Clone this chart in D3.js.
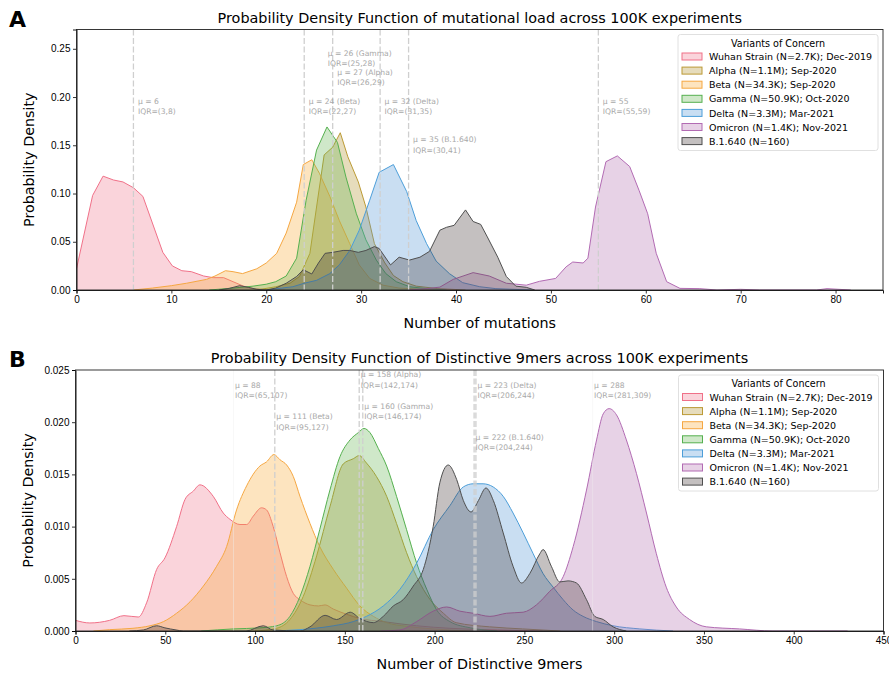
<!DOCTYPE html>
<html>
<head>
<meta charset="utf-8">
<script src="https://cdn.jsdelivr.net/npm/d3@7"></script>
<style>
  body { margin: 0; background: #fff; }
  svg { font-family: "DejaVu Sans", sans-serif; }
  .tick text { font-size: 10px; fill: #000; }
  .domain { stroke: #000; stroke-width: 0.9; }
  .tick line { stroke: #000; stroke-width: 0.8; }
</style>
</head>
<body>
<svg id="chart" width="889" height="674"></svg>
<script>
// legend order = draw order
var variants = ["Wuhan Strain (N=2.7K); Dec-2019", "Alpha (N=1.1M); Sep-2020", "Beta (N=34.3K); Sep-2020",
    "Gamma (N=50.9K); Oct-2020", "Delta (N=3.3M); Mar-2021", "Omicron (N=1.4K); Nov-2021", "B.1.640 (N=160)"];
var lineColors = ["#f07088", "#bb9a35", "#f5a742", "#55b04f", "#4c9ed9", "#b26bb3", "#4f4f4f"];
var fillColors = ["#f07088", "#ac8a20", "#f8a52a", "#5fb24b", "#4b91d4", "#af69ac", "#3a3030"];

// ---- panel A: mutations ----
var wuhanA = [[0,0.022],[1.7,0.098],[2.8,0.118],[3.9,0.114],[4.9,0.112],[6,0.106],[7,0.097],[9.1,0.039],[10.1,0.025],
    [11.1,0.020],[12.1,0.019],[13.4,0.0145],[14.4,0.0128],[15.5,0.0128],[16.5,0.0086],[17.6,0.004],[18.6,0.0014],[20,0.0005],[22,0]];
var alphaA = [[19,0],[21,0.0034],[22.5,0.007],[23.5,0.014],[24.6,0.038],[25.3,0.086],[26.1,0.140],[27,0.148],[27.8,0.163],
    [28.6,0.138],[29.7,0.112],[30.5,0.086],[31.4,0.048],[32.5,0.028],[33.4,0.015],[34.4,0.0086],[35.8,0.004],[38,0.0015],[41,0]];
var betaA = [[6,0],[8,0.002],[10,0.0045],[11.6,0.007],[13.7,0.011],[14.6,0.0145],[15.7,0.020],[16.5,0.019],[17.5,0.017],[19,0.022],
    [20,0.028],[21.1,0.038],[22.1,0.059],[23.2,0.091],[23.9,0.130],[24.8,0.135],[25.6,0.121],[26.7,0.097],[27.7,0.072],
    [28.8,0.048],[29.8,0.026],[30.9,0.012],[32.3,0.005],[34,0.002],[37,0.0005],[40,0]];
var gammaA = [[14,0],[16.5,0.002],[18.6,0.004],[20,0.006],[21,0.0086],[22.1,0.0145],[23.2,0.033],[24.2,0.093],[25.3,0.145],
    [26.4,0.169],[27.5,0.153],[28.4,0.117],[29.5,0.079],[30.5,0.052],[31.6,0.031],[32.6,0.017],[33.7,0.0086],[35.1,0.0034],
    [36.9,0.0014],[39,0]];
var deltaA = [[20,0],[22.8,0.0034],[24,0.007],[25.3,0.010],[26.7,0.017],[27.7,0.026],[28.8,0.041],[29.8,0.062],[30.9,0.093],
    [31.9,0.122],[33.4,0.130],[34.8,0.102],[35.8,0.072],[36.9,0.048],[37.9,0.030],[39.3,0.017],[40.7,0.0076],[42.5,0.0034],
    [44.2,0.0014],[48,0]];
var omicronA = [[35,0],[36.9,0.0014],[38.3,0.003],[39.7,0.011],[41.8,0.018],[43.5,0.0145],[45.3,0.007],[47.4,0.005],
    [48.8,0.009],[50.5,0.012],[51.6,0.024],[52.3,0.029],[53.4,0.028],[53.9,0.033],[54.7,0.086],[55.8,0.133],[57,0.139],
    [58.3,0.128],[59.3,0.103],[60.2,0.079],[61.1,0.038],[62.2,0.0086],[63.6,0.0017],[65.7,0.0014],[67.5,0],[70,0.0007],
    [72,0],[78,0],[79.1,0.0014],[81.6,0]];
var b1640A = [[15,0],[16.1,0.0017],[17.2,0.0045],[18.1,0.0028],[19,0.0007],[20,0],[21,0.002],[22.1,0.007],[23.2,0.014],
    [23.9,0.021],[24.8,0.0166],[25.5,0.028],[26.2,0.038],[27,0.039],[28.1,0.041],[28.8,0.041],[29.7,0.039],[30.5,0.041],
    [31.4,0.045],[31.9,0.043],[33.1,0.026],[34,0.034],[35.1,0.031],[36.2,0.034],[37.2,0.040],[38.3,0.062],[39,0.065],
    [39.8,0.067],[41,0.083],[41.8,0.071],[42.6,0.068],[43.3,0.055],[44.4,0.034],[45.3,0.014],[46.3,0.004],[47.4,0.0028],[48.3,0]];

// ---- panel B: distinctive 9mers ----
var wuhanB = [[0,0.00102],[8,0.00077],[19,0.00102],[27,0.00147],[35,0.00134],[39.6,0.0027],[45.2,0.0059],[49.8,0.0070],
    [56.3,0.0100],[61,0.0126],[65.6,0.0134],[69.3,0.0140],[76.7,0.0129],[82.3,0.0113],[86,0.0107],[91.6,0.0102],[95.3,0.0102],
    [99,0.0110],[103.6,0.0118],[106.4,0.0116],[110.1,0.0100],[113.9,0.0075],[117.6,0.0052],[121.3,0.0036],[125,0.0030],
    [130.6,0.0025],[135.3,0.0024],[139,0.0025],[143.6,0.0021],[151,0.0016],[158.4,0.0012],[171.4,0.0009],[190,0.0005],
    [208.5,0.00026],[235,0.0001],[260,0]];
var alphaB = [[100,0],[112,0.00026],[119.4,0.0011],[126.8,0.0033],[134.3,0.0072],[141.7,0.0119],[149.1,0.0160],[154.7,0.0165],
    [158,0.0168],[162,0.0161],[167.6,0.0148],[173.3,0.0129],[178.8,0.0103],[184.4,0.0075],[190,0.0052],[197.5,0.0030],
    [204.9,0.0017],[212,0.0008],[230.6,0.0004],[249,0.0002],[270,0]];
var betaB = [[10,0],[19,0.00013],[32,0.00026],[41.5,0.0005],[49,0.0009],[56.3,0.0017],[63.8,0.0028],[71.2,0.0043],
    [78.6,0.0062],[84.2,0.0081],[89.7,0.0116],[95.3,0.0139],[102.7,0.0158],[106.4,0.0162],[110.5,0.0169],[113.9,0.0164],
    [117.6,0.0159],[121.3,0.0148],[125,0.0129],[130.6,0.0103],[136,0.0081],[143.6,0.0059],[151,0.0041],[158.4,0.0024],
    [165.9,0.0014],[173.3,0.0008],[184.4,0.00045],[199,0.0002],[220,0]];
var gammaB = [[70,0],[87.9,0.0002],[102.7,0.0003],[112,0.0005],[119.4,0.0014],[125,0.0033],[130.6,0.0062],[136,0.0097],
    [141.7,0.0135],[147.3,0.0167],[152.9,0.0183],[157.5,0.0190],[160.7,0.0194],[164,0.0190],[168.6,0.0175],[173.3,0.0158],
    [178.8,0.0129],[184.4,0.0097],[190,0.0065],[195.6,0.0040],[201.2,0.0020],[208.5,0.0009],[220,0.0003],[235,0]];
var deltaB = [[110,0],[125,0.00013],[143.6,0.0005],[154.7,0.0009],[162,0.0014],[171.4,0.0024],[180.7,0.0040],[190,0.0065],
    [199.2,0.0097],[208.5,0.0120],[216,0.0138],[221.5,0.0141],[227,0.0141],[232.6,0.0138],[238.2,0.0129],[243.7,0.0113],
    [249.3,0.0094],[254.9,0.0074],[260.4,0.0055],[266,0.0042],[271.6,0.0030],[277.2,0.0020],[282.7,0.0014],[290.2,0.0009],
    [299.4,0.0005],[314.3,0.0002],[332.8,0]];
var omicronB = [[170,0],[180.7,0.0001],[190,0.0009],[199.2,0.0019],[206.7,0.0023],[214.1,0.0019],[221.5,0.0017],[230.8,0.0014],
    [240,0.0017],[249.3,0.0018],[256.7,0.0025],[264.1,0.0038],[271.6,0.0052],[277.2,0.0081],[284.6,0.0135],[290.2,0.0183],
    [293.9,0.0208],[297.2,0.0213],[301.3,0.0207],[306.8,0.0183],[312.4,0.0151],[318,0.0113],[323.5,0.0074],[329,0.0042],
    [334.6,0.0023],[342,0.0011],[351.3,0.0004],[369.8,0.0002],[388.4,0],[430,0]];
var b1640B = [[30,0],[37.8,0.0001],[45.2,0.0005],[49.8,0.0003],[56,0.0001],[60,0],[95,0],[104.6,0.0005],[110,0.0001],[125,0],
    [130.6,0.0004],[139,0.0015],[145.4,0.0011],[153,0.0018],[158.4,0.0012],[165.9,0.0008],[171.4,0.0014],[177,0.0024],
    [182.5,0.0030],[188.1,0.0043],[193.7,0.0059],[199.2,0.0100],[202.9,0.0142],[207.6,0.0159],[212.3,0.0145],[216,0.0125],
    [220.3,0.0114],[224.4,0.0125],[228.6,0.0137],[232.7,0.0125],[238.2,0.0094],[243.7,0.0062],[248.4,0.0046],[253,0.0055],
    [258.6,0.0074],[260.4,0.0078],[265,0.0062],[269.7,0.0047],[274.3,0.0048],[279,0.0046],[284.6,0.0030],[289.2,0.0014],
    [293.9,0.0011],[299.4,0.0004],[306.8,0]];

// mean annotations: [mu, label, iqr, text height (density units), faint line]
var notesA = [[6, "\u03bc = 6", "IQR=(3,8)", 0.193, false],
    [26, "\u03bc = 26 (Gamma)", "IQR=(25,28)", 0.243, null],
    [27, "\u03bc = 27 (Alpha)", "IQR=(26,29)", 0.223, false],
    [24, "\u03bc = 24 (Beta)", "IQR=(22,27)", 0.193, false],
    [32, "\u03bc = 32 (Delta)", "IQR=(31,35)", 0.193, false],
    [35, "\u03bc = 35 (B.1.640)", "IQR=(30,41)", 0.153, false],
    [55, "\u03bc = 55", "IQR=(55,59)", 0.193, false]];
var notesB = [[88, "\u03bc = 88", "IQR=(65,107)", 0.0233, true],
    [111, "\u03bc = 111 (Beta)", "IQR=(95,127)", 0.0203, false],
    [158, "\u03bc = 158 (Alpha)", "IQR=(142,174)", 0.0243, false],
    [160, "\u03bc = 160 (Gamma)", "IQR=(146,174)", 0.0213, false],
    [223, "\u03bc = 223 (Delta)", "IQR=(206,244)", 0.0233, false],
    [222, "\u03bc = 222 (B.1.640)", "IQR=(204,244)", 0.0183, false],
    [288, "\u03bc = 288", "IQR=(281,309)", 0.0233, true]];

var svg = d3.select("#chart");

function drawPanel(opt) {
    var x = d3.scaleLinear().domain(opt.xDomain).range([opt.left, opt.right]);
    var y = d3.scaleLinear().domain(opt.yDomain).range([opt.bottom, opt.top]);
    var g = svg.append("g");

    var clipId = "clip" + opt.letter;
    g.append("clipPath").attr("id", clipId).append("rect")
        .attr("x", opt.left).attr("y", opt.top)
        .attr("width", opt.right - opt.left).attr("height", opt.bottom - opt.top);

    var area = d3.area().x(d => x(d[0])).y0(y(0)).y1(d => y(d[1])).curve(opt.curve);
    var line = d3.line().x(d => x(d[0])).y(d => y(d[1])).curve(opt.curve);

    var plot = g.append("g").attr("clip-path", `url(#${clipId})`);
    opt.series.forEach(function(s, i) {
        plot.append("path").attr("d", area(s))
            .attr("fill", fillColors[i]).attr("fill-opacity", 0.3);
        plot.append("path").attr("d", line(s))
            .attr("fill", "none").attr("stroke", lineColors[i]).attr("stroke-width", 1);
    });

    // mean lines
    opt.notes.forEach(function(n) {
        if (n[4] === null) return;
        plot.append("line")
            .attr("x1", x(n[0])).attr("x2", x(n[0]))
            .attr("y1", opt.top).attr("y2", opt.bottom)
            .attr("stroke", n[4] ? "#eeeeee" : "#cfcfcf")
            .attr("stroke-opacity", n[4] ? 0.6 : 1)
            .attr("stroke-width", n[4] ? 0.7 : 1.3)
            .attr("stroke-dasharray", n[4] ? null : "6,2.5");
    });
    opt.notes.forEach(function(n) {
        var t = g.append("text")
            .attr("x", x(n[0]) + opt.noteDx).attr("y", y(n[3]))
            .attr("font-size", 7.6).attr("fill", "#a8a8a8");
        t.append("tspan").attr("x", x(n[0]) + opt.noteDx).attr("dy", 0).text(n[1]);
        t.append("tspan").attr("x", x(n[0]) + opt.noteDx).attr("dy", 10.5).text(n[2]);
    });

    // axes
    g.append("g").attr("transform", `translate(0,${opt.bottom})`)
        .call(d3.axisBottom(x).tickValues(opt.xTicks).tickSize(3.5).tickPadding(2.5));
    g.append("g").attr("transform", `translate(${opt.left},0)`)
        .call(d3.axisLeft(y).tickValues(opt.yTicks).tickFormat(d3.format(opt.yFormat)).tickSize(3.5).tickPadding(2.5));
    g.append("rect")
        .attr("x", opt.left).attr("y", opt.top)
        .attr("width", opt.right - opt.left).attr("height", opt.bottom - opt.top)
        .attr("fill", "none").attr("stroke", "#222").attr("stroke-width", 0.9);

    // labels
    var midX = (opt.left + opt.right) / 2;
    g.append("text").attr("x", midX).attr("y", opt.top - 7)
        .attr("text-anchor", "middle").attr("font-size", 14.4).text(opt.title);
    g.append("text").attr("x", midX).attr("y", opt.bottom + 38)
        .attr("text-anchor", "middle").attr("font-size", 14.3).text(opt.xLabel);
    g.append("text")
        .attr("transform", `translate(${opt.left - 43},${(opt.top + opt.bottom) / 2}) rotate(-90)`)
        .attr("text-anchor", "middle").attr("font-size", 14.3).text("Probability Density");
    g.append("text").attr("x", 9).attr("y", opt.top - 3)
        .attr("font-size", 22).attr("font-weight", "bold").text(opt.letter);

    // legend
    var lx = opt.right - 205, ly = opt.top + 5;
    var leg = g.append("g").attr("transform", `translate(${lx},${ly})`);
    leg.append("rect").attr("width", 200).attr("height", 116).attr("rx", 2.5)
        .attr("fill", "#fff").attr("fill-opacity", 0.85).attr("stroke", "#dcdcdc").attr("stroke-width", 0.9);
    leg.append("text").attr("x", 100).attr("y", 12).attr("text-anchor", "middle")
        .attr("font-size", 9.6).text("Variants of Concern");
    variants.forEach(function(v, i) {
        var yy = 22 + i * 14.1;
        leg.append("rect").attr("x", 4).attr("y", yy - 3.5).attr("width", 20).attr("height", 7)
            .attr("fill", fillColors[i]).attr("fill-opacity", 0.3)
            .attr("stroke", lineColors[i]).attr("stroke-width", 1);
        leg.append("text").attr("x", 31).attr("y", yy + 3.6).attr("font-size", 9.5).text(v);
    });
}

drawPanel({
    letter: "A", left: 76.5, right: 883, top: 29.5, bottom: 290,
    xDomain: [0, 85], yDomain: [0, 0.27],
    xTicks: d3.range(0, 81, 10), yTicks: [0, 0.05, 0.1, 0.15, 0.2, 0.25], yFormat: ".2f",
    series: [wuhanA, alphaA, betaA, gammaA, deltaA, omicronA, b1640A],
    notes: notesA, noteDx: 4.5, curve: d3.curveLinear,
    title: "Probability Density Function of mutational load across 100K experiments",
    xLabel: "Number of mutations"
});

drawPanel({
    letter: "B", left: 75.5, right: 883.5, top: 370, bottom: 631,
    xDomain: [0, 450], yDomain: [0, 0.025],
    xTicks: d3.range(0, 451, 50), yTicks: [0, 0.005, 0.01, 0.015, 0.02, 0.025], yFormat: ".3f",
    series: [wuhanB, alphaB, betaB, gammaB, deltaB, omicronB, b1640B],
    notes: notesB, noteDx: 1.5, curve: d3.curveMonotoneX,
    title: "Probability Density Function of Distinctive 9mers across 100K experiments",
    xLabel: "Number of Distinctive 9mers"
});
</script>
</body>
</html>
